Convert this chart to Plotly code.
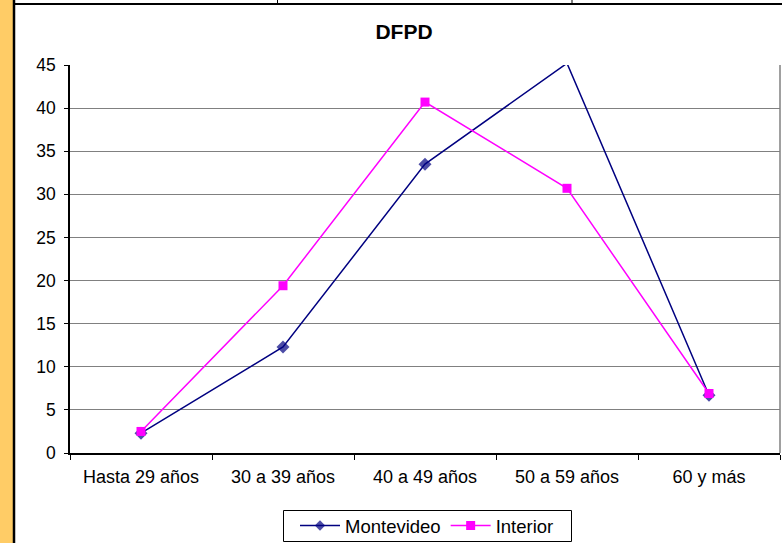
import plotly.graph_objects as go

categories = ["Hasta 29 años", "30 a 39 años", "40 a 49 años", "50 a 59 años", "60 y más"]
montevideo = [2.3, 12.3, 33.5, 45.2, 6.7]
interior = [2.5, 19.4, 40.7, 30.7, 6.9]
y_ticks = [0, 5, 10, 15, 20, 25, 30, 35, 40, 45]

FONT = "Liberation Sans, Arial, sans-serif"

# plot area in pixels
L, R, T, B = 70, 780, 65, 453
W, H = 782, 543

def px_x(px):
    return (px - L) / (R - L)

def px_y(py):
    return (B - py) / (B - T)

fig = go.Figure()
fig.add_trace(go.Scatter(
    x=categories, y=montevideo, name="Montevideo", mode="lines+markers",
    line=dict(color="#000080", width=1.5),
    marker=dict(symbol="diamond", size=[10, 10, 10, 0, 10], color="#000080",
                line=dict(width=0)),
))
fig.add_trace(go.Scatter(
    x=categories, y=interior, name="Interior", mode="lines+markers",
    line=dict(color="#FF00FF", width=1.5),
    marker=dict(symbol="square", size=9, color="#FF00FF", line=dict(width=0)),
))

shapes = [
    # orange strip at left
    dict(type="rect", xref="paper", yref="paper", x0=px_x(0), x1=px_x(13), y0=px_y(W), y1=px_y(-5),
         fillcolor="#FFCC66", line=dict(width=0), layer="below"),
    # black vertical border
    dict(type="line", xref="paper", yref="paper", x0=px_x(14), x1=px_x(14), y0=px_y(560), y1=px_y(-5),
         line=dict(color="black", width=2.5)),
    # top border
    dict(type="line", xref="paper", yref="paper", x0=px_x(14), x1=px_x(790), y0=px_y(4), y1=px_y(4),
         line=dict(color="black", width=2)),
    dict(type="line", xref="paper", yref="paper", x0=px_x(277.5), x1=px_x(277.5), y0=px_y(-5), y1=px_y(4),
         line=dict(color="black", width=1)),
    dict(type="line", xref="paper", yref="paper", x0=px_x(572), x1=px_x(572), y0=px_y(-5), y1=px_y(4),
         line=dict(color="black", width=1)),
    # plot border right (gray)
    dict(type="line", xref="paper", yref="paper", x0=1, x1=1, y0=0, y1=1,
         line=dict(color="#808080", width=1.5)),
    # legend frame
    dict(type="rect", xref="paper", yref="paper", x0=px_x(283.5), x1=px_x(571.5),
         y0=px_y(510.5), y1=px_y(541.5), line=dict(color="black", width=1), fillcolor="rgba(0,0,0,0)"),
]

fig.update_layout(
    template="none",
    width=W, height=H,
    margin=dict(l=L, r=W - R, t=T, b=H - B, pad=0, autoexpand=False),
    paper_bgcolor="white", plot_bgcolor="white",
    font=dict(family=FONT, size=17, color="black"),
    title=dict(text="<b>DFPD</b>", x=404 / W, xanchor="center", y=1 - 32 / H, yanchor="middle",
               font=dict(family=FONT, size=21, color="black")),
    showlegend=True,
    legend=dict(orientation="h", x=px_x(427), xanchor="center", y=px_y(526), yanchor="middle",
                borderwidth=0, bgcolor="rgba(0,0,0,0)",
                font=dict(family=FONT, size=18.5), itemwidth=40, tracegroupgap=0),
    xaxis=dict(
        type="category", range=[-0.5, 4.5], showgrid=False, automargin=False,
        showline=True, linecolor="black", linewidth=1.5,
        ticks="outside", ticklen=5, tickcolor="black", tickson="boundaries",
        tickfont=dict(size=18), ticklabelstandoff=7, zeroline=False, fixedrange=True,
    ),
    yaxis=dict(
        range=[0, 45], tickvals=y_ticks, showgrid=True, gridcolor="#808080", gridwidth=1,
        automargin=False,
        showline=True, linecolor="black", linewidth=1.5,
        ticks="outside", ticklen=4, tickcolor="black",
        tickfont=dict(size=17.5), ticklabelstandoff=5, zeroline=False, fixedrange=True,
    ),
    shapes=shapes,
)

fig.write_html("out.html", config={"displayModeBar": False},
               post_script="document.body.style.margin='0';")
